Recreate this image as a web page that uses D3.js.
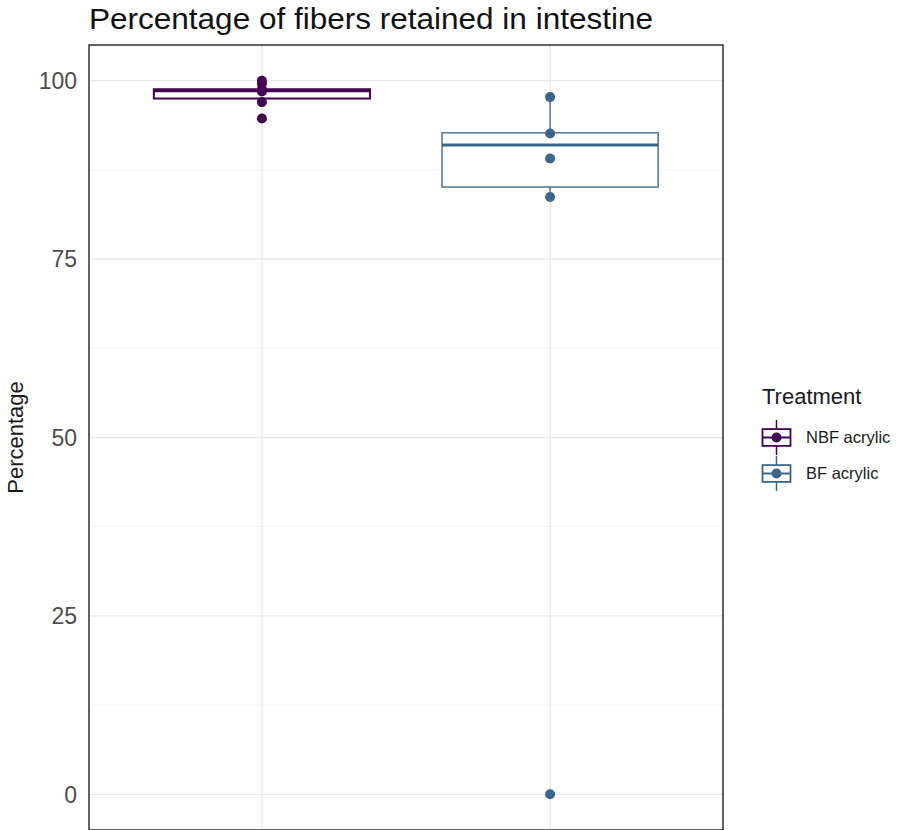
<!DOCTYPE html>
<html>
<head>
<meta charset="utf-8">
<script src="https://cdn.jsdelivr.net/npm/d3@7"></script>
<style>
  body { margin: 0; background: #fff; }
  text { font-family: "Liberation Sans", Arial, sans-serif; }
</style>
</head>
<body>
<svg id="chart" width="905" height="830"></svg>
<script>
// categorias e cores
const treatments = ["NBF acrylic", "BF acrylic"];
const colors = ["#440154", "#3b668c"];

// resumo das caixas
const lowerWhisker = [97.0, 83.7];
const q1 = [97.5, 85.1];
const median = [98.6, 91.0];
const q3 = [98.8, 92.7];
const upperWhisker = [100, 97.7];

// pontos individuais
const pointsNBF = [100, 99.6, 98.8, 98.5, 97.0, 94.7];
const pointsBF = [97.7, 92.6, 89.1, 83.7, 0];
const allPoints = [pointsNBF, pointsBF];

const yTicks = [0, 25, 50, 75, 100];
const yMinor = [12.5, 37.5, 62.5, 87.5];

const svg = d3.select("#chart");
const panel = { left: 89, right: 723, top: 45, bottom: 830 };

const x = d3.scalePoint().domain(treatments).range([panel.left, panel.right]).padding(0.6);
const y = d3.scaleLinear().domain([-5, 105]).range([panel.bottom, panel.top]);
const boxW = x.step() * 0.75;

// grelha
const grid = svg.append("g");
grid.selectAll("line.minor").data(yMinor).enter().append("line")
  .attr("x1", panel.left).attr("x2", panel.right)
  .attr("y1", d => y(d)).attr("y2", d => y(d))
  .attr("stroke", "#f2f2f2").attr("stroke-width", 1);
grid.selectAll("line.major").data(yTicks).enter().append("line")
  .attr("x1", panel.left).attr("x2", panel.right)
  .attr("y1", d => y(d)).attr("y2", d => y(d))
  .attr("stroke", "#e8e8e8").attr("stroke-width", 1.3);
grid.selectAll("line.vert").data(treatments).enter().append("line")
  .attr("x1", d => x(d)).attr("x2", d => x(d))
  .attr("y1", panel.top).attr("y2", panel.bottom)
  .attr("stroke", "#e8e8e8").attr("stroke-width", 1.3);

// caixas
const boxes = svg.append("g");
treatments.forEach((t, i) => {
  const cx = x(t);
  const g = boxes.append("g");
  // bigodes
  g.append("line").attr("x1", cx).attr("x2", cx)
    .attr("y1", y(q3[i])).attr("y2", y(upperWhisker[i]))
    .attr("stroke", colors[i]).attr("stroke-width", 1.5).attr("stroke-opacity", 0.85);
  g.append("line").attr("x1", cx).attr("x2", cx)
    .attr("y1", y(q1[i])).attr("y2", y(lowerWhisker[i]))
    .attr("stroke", colors[i]).attr("stroke-width", 1.5).attr("stroke-opacity", 0.85);
  g.append("rect")
    .attr("x", cx - boxW / 2).attr("width", boxW)
    .attr("y", y(q3[i])).attr("height", y(q1[i]) - y(q3[i]))
    .attr("fill", "#fff").attr("stroke", colors[i])
    .attr("stroke-width", i === 0 ? 2 : 1.6).attr("stroke-opacity", i === 0 ? 1 : 0.85);
  g.append("line")
    .attr("x1", cx - boxW / 2).attr("x2", cx + boxW / 2)
    .attr("y1", y(median[i])).attr("y2", y(median[i]))
    .attr("stroke", colors[i]).attr("stroke-width", 3);
  // pontos
  g.selectAll("circle").data(allPoints[i]).enter().append("circle")
    .attr("cx", cx).attr("cy", d => y(d)).attr("r", 5)
    .attr("fill", colors[i]);
});

// borda do painel
svg.append("rect")
  .attr("x", panel.left).attr("y", panel.top)
  .attr("width", panel.right - panel.left).attr("height", panel.bottom - panel.top)
  .attr("fill", "none").attr("stroke", "#222").attr("stroke-width", 1.4);

// eixo y
svg.selectAll("text.ytick").data(yTicks).enter().append("text")
  .attr("x", panel.left - 12).attr("y", d => y(d)).attr("dy", "0.36em")
  .attr("text-anchor", "end").attr("font-size", "23px").attr("fill", "#4d4d4d")
  .text(d => d);

svg.append("text")
  .attr("transform", `translate(23,${(panel.top + panel.bottom) / 2}) rotate(-90)`)
  .attr("text-anchor", "middle").attr("font-size", "22px").attr("fill", "#1a1a1a")
  .text("Percentage");

// titulo
svg.append("text")
  .attr("x", panel.left).attr("y", 29)
  .attr("font-size", "29px").attr("fill", "#111")
  .attr("textLength", 564).attr("lengthAdjust", "spacingAndGlyphs")
  .text("Percentage of fibers retained in intestine");

// legenda
const legend = svg.append("g").attr("transform", "translate(759,420)");
legend.append("text").attr("x", 3).attr("y", -16)
  .attr("font-size", "22px").attr("fill", "#1a1a1a").text("Treatment");
const keySize = 35;
treatments.forEach((t, i) => {
  const k = legend.append("g").attr("transform", `translate(0,${i * (keySize + 1)})`);
  const c = keySize / 2;
  k.append("line").attr("x1", c).attr("x2", c).attr("y1", 0).attr("y2", keySize)
    .attr("stroke", colors[i]).attr("stroke-width", 1.5);
  k.append("rect").attr("x", keySize * 0.1).attr("y", keySize * 0.26)
    .attr("width", keySize * 0.8).attr("height", keySize * 0.48)
    .attr("fill", "#fff").attr("stroke", colors[i]).attr("stroke-width", 1.8);
  k.append("line").attr("x1", keySize * 0.1).attr("x2", keySize * 0.9)
    .attr("y1", c).attr("y2", c).attr("stroke", colors[i]).attr("stroke-width", 2);
  k.append("circle").attr("cx", c).attr("cy", c).attr("r", 5).attr("fill", colors[i]);
  k.append("text").attr("x", keySize + 12).attr("y", c).attr("dy", "0.36em")
    .attr("font-size", "16.5px").attr("fill", "#1a1a1a").text(t);
});
</script>
</body>
</html>
